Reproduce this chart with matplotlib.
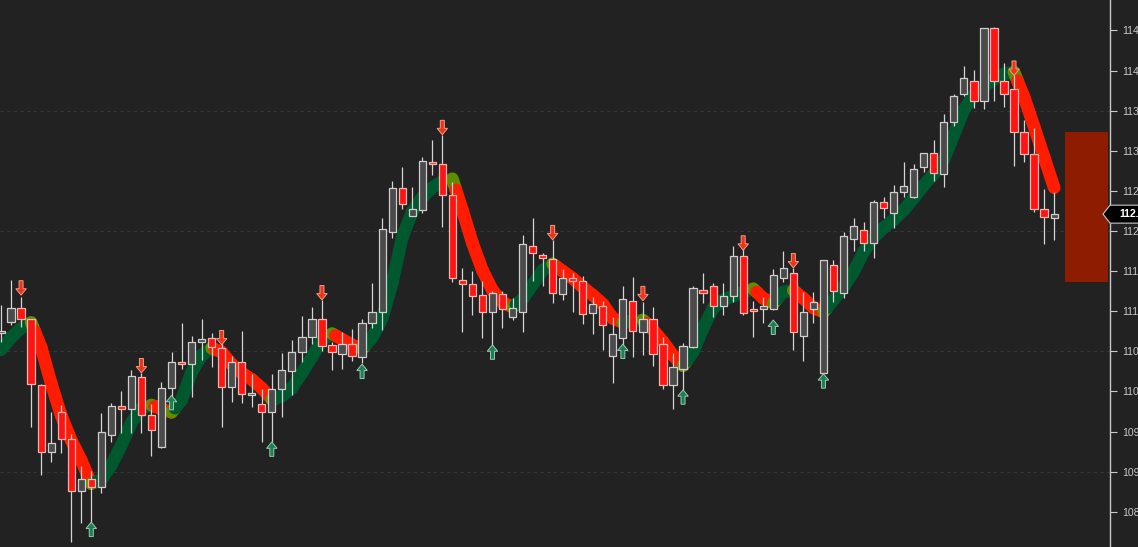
import numpy as np
import matplotlib
matplotlib.use('Agg')
import matplotlib.pyplot as plt
from matplotlib.collections import LineCollection
from matplotlib.patches import Polygon, Rectangle
import matplotlib.transforms as mtransforms

# OHLC, one entry per bar
opens = [110.73, 110.86, 111.04, 110.90, 110.08, 109.24, 109.74, 109.41, 108.76, 108.91,
         108.81, 109.46, 109.82, 109.78, 110.18, 109.70, 109.31, 110.04, 110.37, 110.34,
         110.62, 110.67, 110.54, 110.05, 110.37, 109.95, 109.84, 109.74, 110.03, 110.25,
         110.49, 110.68, 110.90, 110.58, 110.47, 110.59, 110.43, 110.85, 110.99, 111.99,
         112.54, 112.19, 112.26, 112.86, 112.84, 112.45, 111.39, 111.34, 111.20, 110.99,
         111.21, 110.93, 110.99, 111.81, 111.70, 111.65, 111.21, 111.41, 111.38, 110.98,
         111.06, 110.44, 110.67, 111.13, 110.74, 110.90, 110.59, 110.08, 110.28, 110.55,
         111.26, 111.31, 111.06, 111.19, 111.69, 111.03, 111.03, 111.03, 111.41, 111.48,
         110.69, 111.03, 110.23, 111.58, 111.23, 111.90, 112.01, 111.85, 112.36, 112.22,
         112.49, 112.42, 112.80, 112.97, 112.71, 113.36, 113.71, 113.87, 113.62, 114.53,
         113.87, 113.77, 113.23, 112.96, 112.27, 112.16]
highs = [111.08, 111.39, 111.18, 110.90, 110.09, 109.74, 109.83, 109.47, 109.07, 109.01,
         109.73, 109.85, 110.00, 110.27, 110.23, 109.84, 110.12, 110.49, 110.85, 110.69,
         110.90, 110.73, 110.60, 110.44, 110.75, 110.22, 110.03, 110.22, 110.48, 110.64,
         110.94, 111.05, 111.14, 110.62, 110.74, 110.78, 110.90, 111.35, 112.16, 112.62,
         112.80, 112.55, 112.92, 113.13, 113.20, 112.61, 111.54, 111.50, 111.38, 111.25,
         111.25, 111.16, 111.95, 112.16, 111.73, 111.89, 111.53, 111.48, 111.44, 111.18,
         111.13, 110.93, 111.31, 111.43, 111.11, 111.05, 110.68, 110.48, 110.60, 111.31,
         111.48, 111.35, 111.35, 111.81, 111.83, 111.13, 111.18, 111.53, 111.75, 111.54,
         111.24, 111.24, 111.64, 111.64, 111.99, 112.16, 112.11, 112.39, 112.42, 112.57,
         112.86, 112.84, 112.97, 113.13, 113.46, 113.71, 114.06, 114.01, 114.53, 114.54,
         114.09, 113.94, 113.38, 113.28, 112.52, 112.49]
lows = [110.62, 110.83, 110.80, 109.56, 108.96, 109.12, 109.23, 108.12, 108.36, 108.36,
        108.73, 109.37, 109.48, 109.48, 109.48, 109.19, 109.29, 109.93, 110.28, 109.93,
        110.39, 110.30, 109.56, 109.87, 109.85, 109.80, 109.37, 109.37, 109.68, 109.95,
        110.37, 110.59, 110.50, 110.27, 110.28, 110.38, 110.35, 110.79, 110.77, 111.91,
        112.27, 112.19, 112.22, 112.70, 112.05, 111.36, 110.74, 110.95, 110.67, 110.55,
        110.79, 110.89, 110.74, 111.38, 111.31, 111.10, 111.14, 110.99, 110.84, 110.72,
        110.52, 110.10, 110.55, 110.43, 110.45, 110.32, 110.03, 109.78, 110.02, 110.54,
        111.10, 110.93, 110.95, 111.11, 110.95, 110.68, 110.85, 111.01, 111.36, 110.52,
        110.38, 110.85, 110.23, 111.11, 111.16, 111.75, 111.75, 111.66, 112.16, 112.04,
        112.42, 112.41, 112.74, 112.62, 112.55, 113.31, 113.68, 113.53, 113.52, 113.62,
        113.55, 112.81, 112.86, 112.24, 111.84, 111.89]
closes = [110.75, 111.04, 110.90, 110.09, 109.24, 109.36, 109.41, 108.76, 108.91, 108.81,
          109.49, 109.82, 109.78, 110.19, 109.70, 109.52, 110.04, 110.37, 110.34, 110.62,
          110.65, 110.55, 110.05, 110.37, 109.97, 109.98, 109.74, 110.03, 110.27, 110.49,
          110.68, 110.90, 110.57, 110.49, 110.59, 110.44, 110.85, 110.99, 112.02, 112.54,
          112.34, 112.27, 112.87, 112.84, 112.45, 111.41, 111.34, 111.19, 110.99, 111.23,
          111.03, 111.04, 111.84, 111.73, 111.66, 111.23, 111.41, 111.38, 110.96, 111.09,
          110.83, 110.72, 111.15, 110.75, 110.90, 110.47, 110.08, 110.30, 110.57, 111.29,
          111.23, 111.06, 111.19, 111.69, 110.98, 111.00, 111.06, 111.45, 111.54, 110.74,
          110.99, 111.11, 111.64, 111.25, 111.94, 112.06, 111.85, 112.36, 112.29, 112.49,
          112.56, 112.77, 112.97, 112.72, 113.36, 113.68, 113.91, 113.62, 114.53, 113.87,
          113.71, 113.23, 112.96, 112.27, 112.17, 112.21]

# trend band (smoothed average) value at each bar
trend = [110.52, 110.67, 110.79, 110.86, 110.55, 110.10, 109.70, 109.39, 109.14, 108.85,
         108.90, 109.08, 109.33, 109.61, 109.79, 109.83, 109.78, 109.74, 109.89, 110.24,
         110.45, 110.54, 110.49, 110.34, 110.23, 110.15, 110.04, 109.90, 109.94, 110.04,
         110.23, 110.43, 110.64, 110.72, 110.65, 110.58, 110.53, 110.67, 110.91, 111.35,
         111.92, 112.24, 112.42, 112.54, 112.62, 112.65, 112.26, 111.85, 111.51, 111.26,
         111.11, 111.05, 111.15, 111.33, 111.51, 111.59, 111.50, 111.41, 111.30, 111.20,
         111.09, 110.91, 110.86, 110.88, 110.89, 110.77, 110.62, 110.45, 110.32, 110.49,
         110.79, 111.04, 111.14, 111.19, 111.24, 111.28, 111.16, 111.10, 111.24, 111.26,
         111.16, 111.04, 110.99, 111.14, 111.30, 111.49, 111.74, 111.92, 112.04, 112.14,
         112.26, 112.41, 112.57, 112.71, 112.89, 113.20, 113.51, 113.70, 113.80, 113.89,
         113.96, 113.98, 113.67, 113.30, 112.92, 112.54]

# signal arrows: bar index and arrow tip price
sell_bars = [2, 14, 22, 32, 44, 55, 64, 74, 79, 101]
sell_tips = [111.20, 110.23, 110.58, 111.14, 113.20, 111.89, 111.13, 111.76, 111.54, 113.94]
buy_bars = [9, 17, 27, 36, 49, 62, 68, 77, 82]
buy_tips = [108.37, 109.95, 109.37, 110.34, 110.58, 110.59, 110.02, 110.89, 110.22]

# projected range box on the right (bar positions, prices)
box_left, box_right = 106.08, 110.37
box_low, box_high = 111.36, 113.23

y_ticks = [108.5, 109.0, 109.5, 110.0, 110.5, 111.0, 111.5, 112.0, 112.5,
           113.0, 113.5, 114.0, 114.5]
grid_levels = [109.0, 110.5, 112.0, 113.5]

BG = '#222222'
AXIS_C = '#c8c8c8'
GREEN = '#00582f'
RED_BAND = '#ff1c00'
OLIVE = '#5e8e00'

plt.rcParams['font.family'] = ['Liberation Sans', 'DejaVu Sans']

fig = plt.figure(figsize=(11.38, 5.47), dpi=100)
fig.patch.set_facecolor(BG)
ax = fig.add_axes([0, 0, 1110 / 1138, 1])
ax.set_facecolor(BG)

x = np.arange(len(opens))
o = np.array(opens)
h = np.array(highs)
l = np.array(lows)
c = np.array(closes)

for g in grid_levels:
    ax.axhline(g, color='#383838', lw=0.8, ls=(0, (3, 3)), zorder=0)

# trend band, coloured by slope; short olive piece where direction flips
tr = np.array(trend)
segs = []
cols = []
prev = None
for i in range(len(tr) - 1):
    up = tr[i + 1] >= tr[i]
    col = GREEN if up else RED_BAND
    p0 = (x[i], tr[i])
    p1 = (x[i + 1], tr[i + 1])
    if prev is not None and up != prev:
        pm = (x[i] + 0.35, tr[i] + 0.35 * (tr[i + 1] - tr[i]))
        segs.append([p0, pm])
        cols.append(OLIVE)
        segs.append([pm, p1])
        cols.append(col)
    else:
        segs.append([p0, p1])
        cols.append(col)
    prev = up
lc = LineCollection(segs, colors=cols, linewidths=9.2, capstyle='round', zorder=1)
ax.add_collection(lc)

# candles
ax.vlines(x, l, h, color='#d4d4d4', lw=0.9, zorder=2)
up_c = c >= o
body_h = np.maximum(np.abs(c - o), 0.025)
body_b = np.minimum(o, c)
ax.bar(x[up_c], body_h[up_c], bottom=body_b[up_c], width=0.72,
       color='#4b4b4b', edgecolor='#cfcfcf', linewidth=0.9, zorder=3)
ax.bar(x[~up_c], body_h[~up_c], bottom=body_b[~up_c], width=0.72,
       color='#ff1414', edgecolor='#f3b4ac', linewidth=0.9, zorder=3)

# arrows
alen = 0.18
for b, t in zip(sell_bars, sell_tips):
    ax.arrow(b, t + alen, 0, -alen, width=0.4, head_width=1.05, head_length=0.08,
             length_includes_head=True, fc='#ec3418', ec='#f39a84', lw=0.7, zorder=4)
for b, t in zip(buy_bars, buy_tips):
    ax.arrow(b, t - alen, 0, alen, width=0.4, head_width=1.05, head_length=0.08,
             length_includes_head=True, fc='#1b8152', ec='#9cc8b0', lw=0.7, zorder=4)

ax.add_patch(Rectangle((box_left, box_low), box_right - box_left, box_high - box_low,
                       facecolor='#8e1c00', edgecolor='none', zorder=1))

ax.set_xlim(-0.1, 110.57)
ax.set_ylim(108.06, 114.88)

for s in ['top', 'left', 'bottom']:
    ax.spines[s].set_visible(False)
ax.spines['right'].set_color(AXIS_C)
ax.spines['right'].set_linewidth(1.0)
ax.set_xticks([])
ax.yaxis.tick_right()
ax.set_yticks(y_ticks)
ax.set_yticklabels([f'{v:.2f}' for v in y_ticks])
ax.tick_params(axis='y', colors=AXIS_C, length=5, width=0.8, pad=4, labelsize=7.6)

# last price marker
last = closes[-1]
trans = mtransforms.blended_transform_factory(ax.transAxes, ax.transData)
hh = 0.112
marker = Polygon([(0.9937, last), (1.0, last + hh), (1.04, last + hh),
                  (1.04, last - hh), (1.0, last - hh)], closed=True,
                 transform=trans, facecolor='black', edgecolor=AXIS_C, lw=0.8,
                 clip_on=False, zorder=6)
ax.add_patch(marker)
ax.text(1.0085, last, f'{last:.2f}', transform=trans, color='white', fontsize=7.6,
        fontweight='bold', va='center', ha='left', clip_on=False, zorder=7)

fig.savefig('out.png', dpi=100, facecolor=BG)
